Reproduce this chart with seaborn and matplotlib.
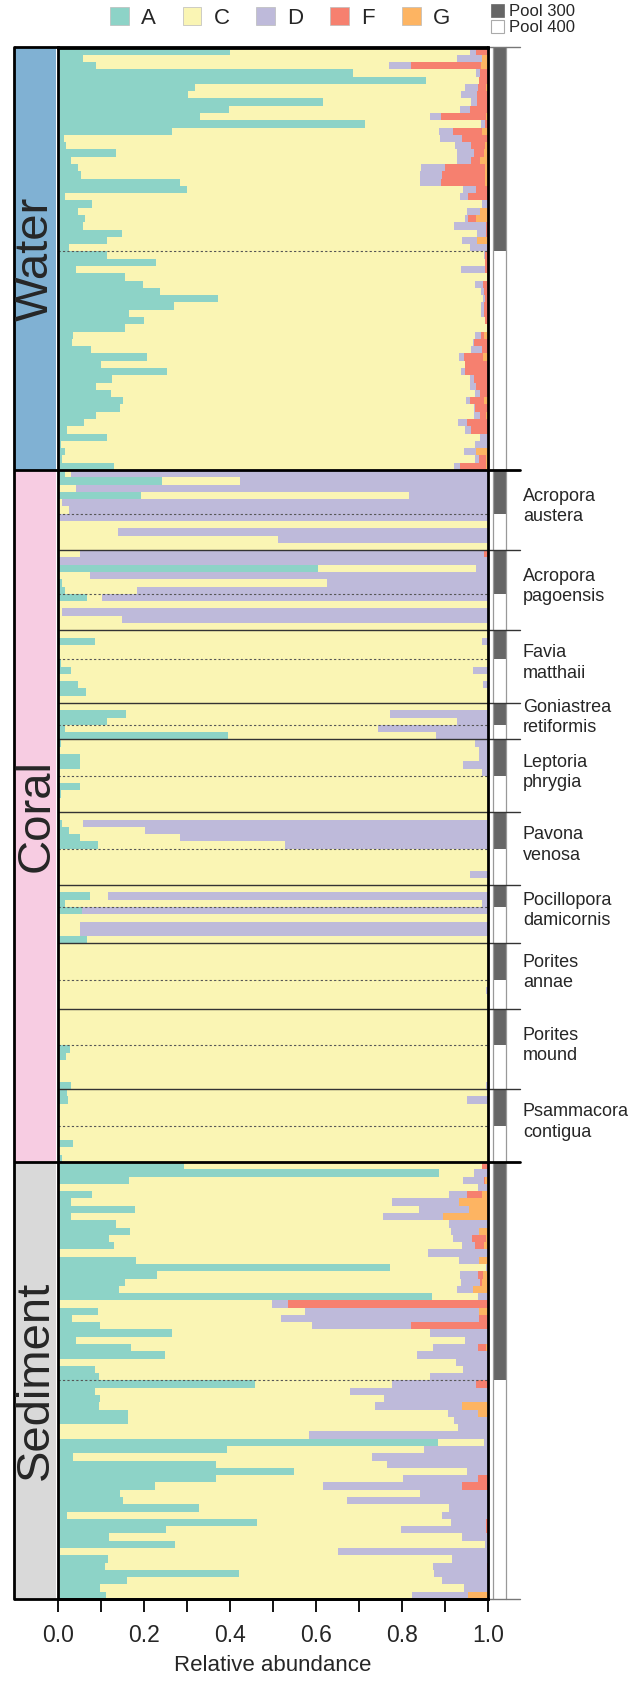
import numpy as np
import pandas as pd
import matplotlib
matplotlib.use('Agg')
import matplotlib.pyplot as plt
from matplotlib.patches import Rectangle, Patch
import seaborn as sns

# --- taxa / colours ---
taxa = ['A', 'C', 'D', 'F', 'G']
taxa_colors = ['#8DD3C7', '#FAF5B4', '#BEBADA', '#F6806F', '#FDB462']

# --- sections ---
sections = ['Water', 'Coral', 'Sediment']
section_colors = ['#80B1D3', '#F7CCE2', '#D9D9D9']

water_pool = [28, 30]        # rows in pool 300 / pool 400
sediment_pool = [30, 30]
coral_species = ['Acropora\naustera', 'Acropora\npagoensis', 'Favia\nmatthaii',
                 'Goniastrea\nretiformis', 'Leptoria\nphrygia', 'Pavona\nvenosa',
                 'Pocillopora\ndamicornis', 'Porites\nannae', 'Porites\nmound',
                 'Psammacora\ncontigua']
coral_pool300 = [6, 6, 4, 3, 5, 5, 3, 5, 5, 5]
coral_pool400 = [5, 5, 6, 2, 5, 5, 5, 4, 6, 5]

# --- cumulative abundances per sample (A, A+C, A+C+D, A+C+D+F; rest is G) ---
water_A = [0.40, 0.057, 0.089, 0.686, 0.856, 0.318, 0.303, 0.616, 0.398, 0.33,
           0.714, 0.265, 0.013, 0.018, 0.136, 0.03, 0.047, 0.053, 0.283, 0.299,
           0.016, 0.08, 0.047, 0.062, 0.057, 0.148, 0.113, 0.026, 0.113, 0.228,
           0.041, 0.156, 0.198, 0.237, 0.373, 0.27, 0.164, 0.2, 0.156, 0.036,
           0.033, 0.077, 0.208, 0.1, 0.254, 0.126, 0.089, 0.124, 0.15, 0.144,
           0.089, 0.06, 0.02, 0.115, 0.008, 0.016, 0.01, 0.13]
water_AC = [0.959, 0.928, 0.770, 0.973, 0.978, 0.946, 0.938, 0.960, 0.936, 0.866,
            0.984, 0.887, 0.889, 0.924, 0.928, 0.929, 0.845, 0.842, 0.842, 0.943,
            0.936, 0.986, 0.951, 0.946, 0.920, 0.974, 0.940, 0.959, 0.990, 0.994,
            0.938, 0.998, 0.970, 0.984, 0.988, 0.984, 0.984, 0.994, 0.998, 0.970,
            0.964, 0.960, 0.933, 0.947, 0.938, 0.957, 0.959, 0.970, 0.948, 0.967,
            0.967, 0.930, 0.946, 0.981, 0.970, 0.945, 0.970, 0.922]
water_ACD = [0.973, 0.986, 0.821, 0.981, 0.978, 0.977, 0.974, 0.974, 0.957, 0.891,
             0.992, 0.918, 0.940, 0.960, 0.967, 0.961, 0.900, 0.893, 0.891, 0.973,
             0.953, 1.0, 0.981, 0.953, 0.995, 0.995, 0.974, 0.998, 0.993, 0.994,
             0.994, 0.998, 0.988, 0.990, 0.993, 0.990, 0.990, 0.994, 0.998, 0.984,
             0.967, 0.986, 0.945, 0.947, 0.947, 0.967, 0.973, 0.981, 0.959, 0.970,
             0.982, 0.950, 0.960, 1.0, 1.0, 0.973, 0.978, 0.934]
water_ACDF = [1.0, 0.986, 0.984, 1.0, 1.0, 0.996, 1.0, 1.0, 1.0, 0.996,
              1.0, 0.987, 1.0, 0.994, 0.990, 0.982, 0.992, 0.992, 0.992, 1.0,
              1.0, 1.0, 0.981, 0.973, 1.0, 1.0, 0.974, 1.0, 1.0, 1.0,
              1.0, 1.0, 1.0, 1.0, 1.0, 1.0, 1.0, 1.0, 1.0, 0.991,
              1.0, 1.0, 0.988, 1.0, 1.0, 1.0, 1.0, 1.0, 0.990, 1.0,
              0.996, 1.0, 1.0, 1.0, 1.0, 0.973, 0.996, 0.996]

coral_A = [0.017, 0.242, 0, 0.192, 0, 0, 0, 0, 0, 0, 0,
           0, 0, 0.605, 0, 0.009, 0.017, 0.067, 0, 0, 0, 0,
           0, 0.087, 0, 0, 0.006, 0.031, 0, 0.047, 0.065, 0,
           0.003, 0.157, 0.113, 0.017, 0.395,
           0.006, 0, 0.052, 0.052, 0.003, 0, 0.05, 0.008, 0, 0,
           0, 0.009, 0.026, 0.05, 0.092, 0, 0, 0, 0, 0,
           0, 0.075, 0.017, 0.056, 0, 0.003, 0, 0.067,
           0, 0, 0, 0, 0, 0, 0, 0, 0,
           0, 0, 0, 0, 0, 0.028, 0.019, 0, 0, 0, 0.03,
           0.021, 0.024, 0, 0, 0, 0, 0, 0.035, 0, 0.009]
coral_AC = [0.03, 0.423, 0.041, 0.817, 0.009, 0.026, 0.002, 1, 0.14, 0.511, 1,
            0.05, 0.003, 0.971, 0.074, 0.625, 0.183, 0.102, 1, 0.01, 0.148, 1,
            1, 0.987, 1, 1, 1, 0.965, 1, 0.988, 1, 1,
            1, 0.773, 0.927, 0.744, 0.878,
            0.969, 0.978, 0.978, 0.943, 0.985, 1, 1, 1, 1, 1,
            1, 0.057, 0.203, 0.284, 0.528, 1, 1, 1, 0.958, 1,
            1, 0.116, 0.986, 0.056, 1, 0.05, 0.05, 1,
            1, 1, 1, 1, 1, 1, 0.995, 1, 1,
            1, 1, 1, 1, 1, 1, 1, 1, 1, 1, 0.995,
            1, 0.951, 1, 1, 1, 1, 1, 1, 1, 1]
coral_ACD = [1, 1, 1, 1, 1, 1, 1, 1, 1, 1, 1,
             0.99, 1, 1, 1, 1, 1, 1, 1, 1, 1, 1,
             1, 1, 1, 1, 1, 1, 1, 1, 1, 1,
             1, 1, 1, 1, 1,
             1, 1, 1, 1, 1, 1, 1, 1, 1, 1,
             1, 1, 1, 1, 1, 1, 1, 1, 1, 1,
             1, 1, 1, 1, 1, 1, 1, 1,
             1, 1, 1, 1, 1, 1, 1, 1, 1,
             1, 1, 1, 1, 1, 1, 1, 1, 1, 1, 1,
             1, 1, 1, 1, 1, 1, 1, 1, 1, 1]
coral_ACDF = coral_ACD.copy()
coral_ACDF[11] = 1.0

sediment_A = [0.292, 0.886, 0.164, 0.003, 0.078, 0.031, 0.179, 0.03, 0.134, 0.168,
              0.118, 0.13, 0.0, 0.181, 0.773, 0.231, 0.156, 0.141, 0.869, 0.0,
              0.093, 0.032, 0.098, 0.266, 0.043, 0.17, 0.249, 0.0, 0.087, 0.095,
              0.459, 0.086, 0.098, 0.095, 0.162, 0.162, 0.0, 0.0, 0.884, 0.392,
              0.035, 0.367, 0.549, 0.367, 0.226, 0.144, 0.15, 0.329, 0.022, 0.462,
              0.251, 0.118, 0.273, 0.005, 0.116, 0.109, 0.422, 0.16, 0.098, 0.111]
sediment_AC = [0.986, 0.967, 0.943, 0.976, 0.91, 0.776, 0.84, 0.755, 0.91, 0.913,
               0.918, 0.94, 0.861, 0.932, 0.995, 0.936, 0.937, 0.928, 0.977, 0.497,
               0.574, 0.519, 0.59, 0.864, 0.947, 0.871, 0.836, 0.925, 0.943, 0.864,
               0.777, 0.68, 0.759, 0.737, 0.907, 0.92, 0.93, 0.583, 0.99, 0.851,
               0.731, 0.764, 0.951, 0.803, 0.616, 0.843, 0.672, 0.91, 0.893, 0.915,
               0.798, 0.939, 0.993, 0.652, 0.917, 0.872, 0.874, 0.893, 0.945, 0.823]
sediment_ACD = [0.986, 1, 0.991, 1, 0.951, 0.932, 0.956, 0.895, 1, 0.98,
                0.962, 0.97, 1, 0.978, 1, 0.976, 0.982, 0.965, 1, 0.534,
                0.98, 0.98, 0.821, 1, 1, 0.976, 1, 1, 1, 1,
                0.972, 1, 1, 0.94, 0.976, 1, 1, 1, 1, 1,
                1, 1, 1, 0.977, 0.939, 1, 1, 1, 1, 0.996,
                0.995, 1, 1, 1, 1, 0.997, 1, 1, 1, 0.954]
sediment_ACDF = [1, 1, 0.994, 1, 0.987, 0.932, 0.956, 0.895, 1, 0.98,
                 0.996, 0.99, 1, 0.978, 1, 0.989, 0.987, 0.965, 1, 1,
                 0.98, 1, 1, 1, 1, 0.995, 1, 1, 1, 1,
                 1, 1, 1, 0.94, 0.976, 1, 1, 1, 1, 1,
                 1, 1, 1, 1, 1, 1, 1, 1, 1, 1,
                 1, 1, 1, 1, 1, 1, 1, 1, 1, 0.954]

# --- style ---
sns.set_style('ticks')
plt.rcParams['font.family'] = ['Liberation Sans', 'DejaVu Sans']

# --- table of samples ---
df = pd.DataFrame({
    'A': np.concatenate([water_A, coral_A, sediment_A]),
    'AC': np.concatenate([water_AC, coral_AC, sediment_AC]),
    'ACD': np.concatenate([water_ACD, coral_ACD, sediment_ACD]),
    'ACDF': np.concatenate([water_ACDF, coral_ACDF, sediment_ACDF]),
})
df['ACDFG'] = 1.0
n = len(df)
df['sample'] = [f's{i:03d}' for i in range(n)]
order = list(df['sample'])

W, H = 629, 1682
fig = plt.figure(figsize=(W / 100, H / 100), dpi=100)
top_px, bot_px, left_px, right_px = 47.5, 1599, 58, 488
ax = fig.add_axes([left_px / W, 1 - bot_px / H,
                   (right_px - left_px) / W, (bot_px - top_px) / H])

# stacked bars: draw cumulative totals from widest to narrowest
for col, colr in zip(['ACDFG', 'ACDF', 'ACD', 'AC', 'A'], taxa_colors[::-1]):
    sns.barplot(data=df, x=col, y='sample', order=order, orient='h',
                color=colr, saturation=1, width=1.0, errorbar=None,
                linewidth=0, ax=ax)

ax.set_xlim(0, 1)
ax.set_ylim(n - 0.5, -0.5)
ax.set_yticks([])
ax.set_ylabel('')
ax.set_xlabel('Relative abundance', fontsize=16, labelpad=6)
ax.set_xticks(np.arange(0, 1.01, 0.2))
ax.set_xticklabels([f'{v:.1f}' for v in np.arange(0, 1.01, 0.2)], fontsize=16.5)
ax.set_xticks(np.arange(0.1, 1.0, 0.2), minor=True)
ax.tick_params(axis='x', which='both', length=9, width=1.3, pad=9, color='black')
for s in ax.spines.values():
    s.set_linewidth(2)
    s.set_color('black')

px = 1.0 / (right_px - left_px)       # one pixel in data units
strip_l = (14 - left_px) * px
strip_r = (56 - left_px) * px
pool_l = (493 - left_px) * px
pool_r = (506 - left_px) * px
line_r = (520 - left_px) * px
lab_x = (523 - left_px) * px

# section strips + labels
sec_sizes = [sum(water_pool), sum(coral_pool300) + sum(coral_pool400), sum(sediment_pool)]
start = 0
bounds = [0]
for name, colr, size in zip(sections, section_colors, sec_sizes):
    ax.add_patch(Rectangle((strip_l, start - 0.5), strip_r - strip_l, size,
                           facecolor=colr, edgecolor='none', clip_on=False))
    ax.text((strip_l + strip_r) / 2 + 0.003, start - 0.5 + size / 2, name, rotation=90,
            ha='center', va='center', fontsize=34, clip_on=False)
    start += size
    bounds.append(start)

# pool blocks
pool_blocks = [water_pool]
pool_blocks += [[a, b] for a, b in zip(coral_pool300, coral_pool400)]
pool_blocks += [sediment_pool]
start = 0
pool_breaks = []
group_breaks = []
for a, b in pool_blocks:
    ax.add_patch(Rectangle((pool_l, start - 0.5), pool_r - pool_l, a,
                           facecolor='#666666', edgecolor='none', clip_on=False))
    ax.add_patch(Rectangle((pool_l, start + a - 0.5), pool_r - pool_l, b,
                           facecolor='white', edgecolor='none', clip_on=False))
    pool_breaks.append(start + a)
    start += a + b
    group_breaks.append(start)

for x in [pool_l, pool_r]:
    ax.plot([x, x], [-0.5, n - 0.5], color='#999999', lw=0.9, clip_on=False)

for y in pool_breaks:
    ax.plot([0, 1], [y - 0.5, y - 0.5], color='#555555', lw=0.8,
            ls=(0, (2, 2)), clip_on=False)

# coral species separators + labels
coral_start = bounds[1]
g0 = coral_start
for i, name in enumerate(coral_species):
    g1 = group_breaks[i + 1]
    if i > 0:
        ax.plot([0, line_r], [g0 - 0.5, g0 - 0.5], color='#333333', lw=1.0,
                clip_on=False)
    ax.text(lab_x, (g0 + g1) / 2 - 1.0, name, ha='left', va='center',
            fontsize=13, linespacing=1.25, clip_on=False)
    g0 = g1

# frame
for y in bounds:
    ax.plot([strip_l, 1], [y - 0.5, y - 0.5], color='black', lw=2, clip_on=False,
            solid_capstyle='butt')
    ax.plot([1, line_r], [y - 0.5, y - 0.5], color='black' if 0 < y < n else '#777777',
            lw=2 if 0 < y < n else 1, clip_on=False)
ax.plot([strip_l, strip_l], [-0.5, n - 0.5], color='black', lw=2, clip_on=False)

# legends
taxa_handles = [Patch(facecolor=c, edgecolor='#bbbbbb', lw=0.5) for c in taxa_colors]
fig.legend(taxa_handles, taxa, loc='center', bbox_to_anchor=(280 / W, 1 - 18 / H),
           ncol=5, frameon=False, fontsize=16, handlelength=0.85, handleheight=0.85,
           handletextpad=0.55, columnspacing=1.2, borderpad=0)
pool_handles = [Patch(facecolor='#666666', edgecolor='#666666', lw=0.5),
                Patch(facecolor='white', edgecolor='#aaaaaa', lw=0.8)]
fig.legend(pool_handles, ['Pool 300', 'Pool 400'], loc='upper left',
           bbox_to_anchor=(491 / W, 1 - 4 / H), frameon=False, fontsize=12,
           handlelength=0.8, handleheight=0.8, handletextpad=0.3,
           labelspacing=0.05, borderpad=0, borderaxespad=0)

fig.savefig('out.png', dpi=100)
